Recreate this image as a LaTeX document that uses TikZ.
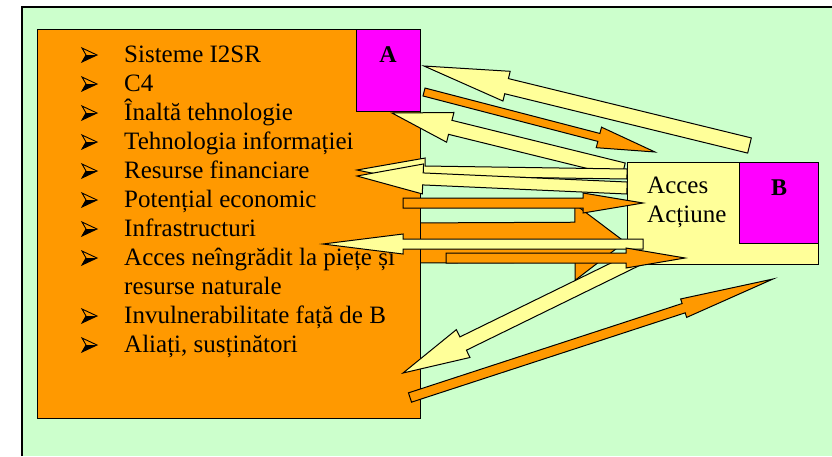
\documentclass[tikz,border=0pt]{standalone}
\usepackage{fontspec}
\setmainfont{Liberation Serif}
\usetikzlibrary{calc}
\definecolor{bggreen}{HTML}{CCFFCC}
\definecolor{aorange}{HTML}{FF9900}
\definecolor{amag}{HTML}{FF00FF}
\definecolor{ayel}{HTML}{FFFF99}
\tikzset{
  yarrow/.style={draw=black, fill=ayel, line width=1pt},
  oarrow/.style={draw=black, fill=aorange, line width=1pt},
  itemtxt/.style={anchor=base west, inner sep=0pt, font=\fontsize{25}{29}\selectfont},
  lbl/.style={anchor=base, inner sep=0pt, font=\bfseries\fontsize{24}{28}\selectfont},
  boxline/.style={draw=black, line width=1pt},
  bulletarrow/.pic={
    \fill[black] (4,-7) -- (15,-7) -- (0,0) -- cycle;
    \draw[black, line width=0.9pt, line join=miter] (4,-7) -- (0,-14) -- (15,-7) -- (0,0) -- cycle;
  },
}
% #1 style, #2 tail, #3 tip, #4 shaft half width, #5 head half width, #6 head length
\newcommand\blockarrow[6]{%
  \coordinate (ba-t) at #2;
  \coordinate (ba-h) at #3;
  \coordinate (ba-b) at ($(ba-h)!#6pt!(ba-t)$);
  \draw[#1] ($(ba-t)!#4pt!90:(ba-h)$) -- ($(ba-b)!#4pt!90:(ba-h)$) -- ($(ba-b)!#5pt!90:(ba-h)$)
    -- (ba-h) -- ($(ba-b)!#5pt!-90:(ba-h)$) -- ($(ba-b)!#4pt!-90:(ba-h)$) -- ($(ba-t)!#4pt!-90:(ba-h)$) -- cycle;
}
\begin{document}
\begin{tikzpicture}[x=1pt,y=-1pt]
\useasboundingbox (0,0) rectangle (832,456);
\fill[white] (0,0) rectangle (832,456);
% frame
\fill[bggreen] (22,7) rectangle (832,456);
\draw[line width=1.5pt] (22,456) -- (22,7) -- (832,7);
% big orange arrow behind
\blockarrow{oarrow}{(400,243)}{(625,242)}{20}{38}{50}
% orange box and A
\node[boxline, fill=aorange, minimum width=383pt, minimum height=389pt, anchor=north west, inner sep=0pt] (Abox) at (37,29) {};
\node[boxline, fill=amag, minimum width=64pt, minimum height=82pt, anchor=north west, inner sep=0pt] (Amag) at (356,29) {};
\node[lbl] (Alab) at (388,62) {A};
% B box
\node[boxline, fill=ayel, minimum width=191pt, minimum height=102pt, anchor=north west, inner sep=0pt] (Bbox) at (627,162) {};
\node[boxline, fill=amag, minimum width=79pt, minimum height=81pt, anchor=north west, inner sep=0pt] (Bmag) at (739,162) {};
\node[lbl] (Blab) at (779,195) {B};
\node[itemtxt] (acces) at (647,193) {Acces};
\node[itemtxt] (actiune) at (647,222) {Acțiune};
% list
\foreach \yy in {62,91,120,149,178,207,236,265,323,352} { \pic at (82,\yy) {bulletarrow}; }
\node[itemtxt] (t1) at (124,62) {Sisteme I2SR};
\node[itemtxt] (t2) at (124,91) {C4};
\node[itemtxt] (t3) at (124,120) {Înaltă tehnologie};
\node[itemtxt] (t4) at (124,149) {Tehnologia informației};
\node[itemtxt] (t5) at (124,178) {Resurse financiare};
\node[itemtxt] (t6) at (124,207) {Potențial economic};
\node[itemtxt] (t7) at (124,236) {Infrastructuri};
\node[itemtxt] (t8) at (124,265) {Acces neîngrădit la piețe și};
\node[itemtxt] (t8b) at (124,294) {resurse naturale};
\node[itemtxt] (t9) at (124,323) {Invulnerabilitate față de B};
\node[itemtxt] (t10) at (124,352) {Aliați, susținători};
% arrows
\blockarrow{yarrow}{(749.5,145.5)}{(424,66)}{7.8}{15.3}{85}
\blockarrow{oarrow}{(424,92)}{(655,152)}{4.1}{10.6}{58}
\blockarrow{yarrow}{(623.5,170)}{(392,113)}{7.2}{15.3}{60}
\blockarrow{yarrow}{(627,174)}{(357,170)}{5}{13}{68}
\blockarrow{yarrow}{(627,188)}{(357,176)}{6}{15}{66}
\blockarrow{oarrow}{(403,203)}{(643,203)}{5}{10}{60}
\blockarrow{yarrow}{(640,257)}{(403,373)}{7.4}{15.5}{67}
\blockarrow{yarrow}{(643,244)}{(323,244)}{5}{10}{80}
\blockarrow{oarrow}{(446,258)}{(685,258)}{5}{10}{59}
\blockarrow{oarrow}{(410,397.5)}{(773,279)}{4.9}{9.7}{94}
\end{tikzpicture}
\end{document}
